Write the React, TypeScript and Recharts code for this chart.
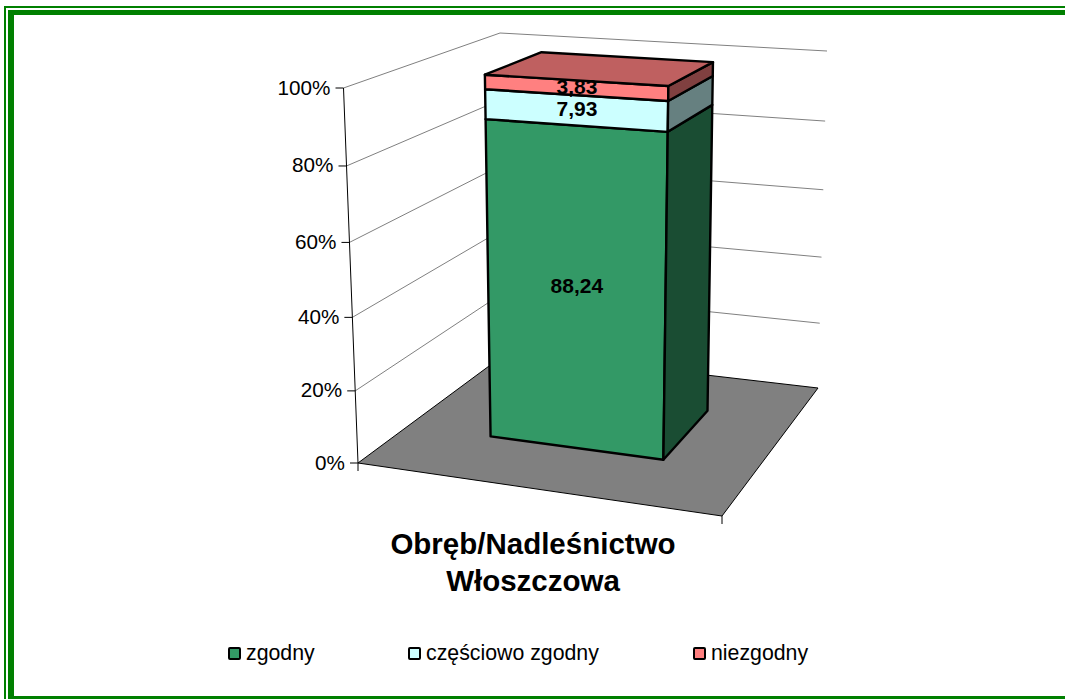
import { BarChart, Bar, XAxis, YAxis, CartesianGrid, Legend, LabelList } from "recharts";

const categories = ["Obręb/Nadleśnictwo Włoszczowa"];
const zgodny = [88.24];
const czesciowo = [7.93];
const niezgodny = [3.83];
const percentTicks = [0, 20, 40, 60, 80, 100];

const seriesNames = ["zgodny", "częściowo zgodny", "niezgodny"];
const legendLefts = [228, 408, 693];

const data = categories.map((name, i) => ({
  name,
  zgodny: zgodny[i],
  czesciowo: czesciowo[i],
  niezgodny: niezgodny[i],
}));

const WIDTH = 1065;
const HEIGHT = 699;
const FONT = "'Liberation Sans', Arial, sans-serif";

// plot box handed to recharts; the 3D view below is projected from it
const PLOT_LEFT = 358;
const PLOT_RIGHT = 722;
const PLOT_TOP = 88;
const PLOT_BOTTOM = 463;

type Pt = [number, number];

// unit square -> quad (front-left, front-right, back-right, back-left)
function makeHomography(p0: Pt, p1: Pt, p2: Pt, p3: Pt) {
  const dx1 = p1[0] - p2[0];
  const dy1 = p1[1] - p2[1];
  const dx2 = p3[0] - p2[0];
  const dy2 = p3[1] - p2[1];
  const sx = p0[0] - p1[0] + p2[0] - p3[0];
  const sy = p0[1] - p1[1] + p2[1] - p3[1];
  const den = dx1 * dy2 - dx2 * dy1;
  const g = (sx * dy2 - dx2 * sy) / den;
  const h = (dx1 * sy - sx * dy1) / den;
  const a = p1[0] - p0[0] + g * p1[0];
  const b = p3[0] - p0[0] + h * p3[0];
  const d = p1[1] - p0[1] + g * p1[1];
  const e = p3[1] - p0[1] + h * p3[1];
  return (u: number, w: number): Pt => {
    const k = g * u + h * w + 1;
    return [(a * u + b * w + p0[0]) / k, (d * u + e * w + p0[1]) / k];
  };
}

const floor = makeHomography([358, 463], [722, 516], [818, 388], [508, 352]);
const ceiling = makeHomography([343.5, 88], [731, 113], [827, 51], [500, 33]);

// v is 0..1 up the value axis, with a little foreshortening
function project(u: number, w: number, v: number): Pt {
  const t = v / (v + 1.05 * (1 - v));
  const a = floor(u, w);
  const b = ceiling(u, w);
  return [a[0] + (b[0] - a[0]) * t, a[1] + (b[1] - a[1]) * t];
}

const pixelToV = (y: number) => (PLOT_BOTTOM - y) / (PLOT_BOTTOM - PLOT_TOP);
const pixelToU = (x: number) => (x - PLOT_LEFT) / (PLOT_RIGHT - PLOT_LEFT);
const toPoints = (pts: Pt[]) => pts.map((p) => `${p[0]},${p[1]}`).join(" ");

const DEPTH_FRONT = 0.3;
const DEPTH_BACK = 0.7;

function Box3D(props: any) {
  const { x, y, width, height, front, side, top } = props;
  const u0 = pixelToU(x);
  const u1 = pixelToU(x + width);
  const v0 = pixelToV(y + height);
  const v1 = pixelToV(y);
  const common = { stroke: "#000", strokeWidth: 2.4, strokeLinejoin: "round" as const };
  return (
    <g>
      <polygon
        {...common}
        fill={front}
        points={toPoints([
          project(u0, DEPTH_FRONT, v0),
          project(u1, DEPTH_FRONT, v0),
          project(u1, DEPTH_FRONT, v1),
          project(u0, DEPTH_FRONT, v1),
        ])}
      />
      <polygon
        {...common}
        fill={side}
        points={toPoints([
          project(u1, DEPTH_FRONT, v0),
          project(u1, DEPTH_BACK, v0),
          project(u1, DEPTH_BACK, v1),
          project(u1, DEPTH_FRONT, v1),
        ])}
      />
      {top && (
        <polygon
          {...common}
          fill={top}
          points={toPoints([
            project(u0, DEPTH_FRONT, v1),
            project(u1, DEPTH_FRONT, v1),
            project(u1, DEPTH_BACK, v1),
            project(u0, DEPTH_BACK, v1),
          ])}
        />
      )}
    </g>
  );
}

function BoxLabel(props: any) {
  const { x, y, width, height, value } = props;
  const uc = pixelToU(x + width / 2);
  const a = project(uc, DEPTH_FRONT, pixelToV(y + height));
  const b = project(uc, DEPTH_FRONT, pixelToV(y));
  return (
    <text
      x={(a[0] + b[0]) / 2 + 1.5}
      y={(a[1] + b[1]) / 2 - 1.5}
      textAnchor="middle"
      dominantBaseline="central"
      fontFamily={FONT}
      fontWeight="bold"
      fontSize={21}
      fill="#000"
    >
      {String(value).replace(".", ",")}
    </text>
  );
}

function WallLine(props: any) {
  const v = pixelToV(props.y1);
  if (v <= 0.001) return <g />;
  return (
    <polyline
      fill="none"
      stroke="#808080"
      strokeWidth={1}
      points={toPoints([project(0, 0, v), project(0, 1, v), project(1, 1, v)])}
    />
  );
}

function ValueTick(props: any) {
  const v = pixelToV(props.y);
  const [px, py] = project(0, 0, v);
  return (
    <g>
      <line x1={px - 8} y1={py} x2={px} y2={py} stroke="#000" />
      <text
        x={px - 13}
        y={py - 1}
        textAnchor="end"
        dominantBaseline="central"
        fontFamily={FONT}
        fontSize={20.7}
        fill="#000"
      >
        {props.payload.value}%
      </text>
    </g>
  );
}

function CategoryTick(props: any) {
  const lines = String(props.payload.value).split(" ");
  return (
    <g>
      {lines.map((line, i) => (
        <text
          key={i}
          x={props.x - 7}
          y={543 + i * 37}
          textAnchor="middle"
          dominantBaseline="central"
          fontFamily={FONT}
          fontWeight="bold"
          fontSize={29.5}
          fill="#000"
        >
          {line}
        </text>
      ))}
    </g>
  );
}

// zero height on purpose: a taller legend would eat into the plot box
function LegendRow() {
  return (
    <div style={{ position: "relative", height: 0, fontFamily: FONT, fontSize: 21.3 }}>
      {seriesNames.map((name, i) => (
        <div key={name} style={{ position: "absolute", left: legendLefts[i], top: 0, whiteSpace: "nowrap" }}>
          <span
            style={{
              display: "inline-block",
              width: 9,
              height: 9,
              border: "2px solid #000",
              borderRadius: 2,
              marginRight: 5,
              background: seriesColors[i],
            }}
          />
          {name}
        </div>
      ))}
    </div>
  );
}

const seriesColors = ["#339966", "#CCFFFF", "#FF8080"];
const sideColors = ["#1A4D33", "#668080", "#804040"];
const topColor = "#BF6060";

export default function App() {
  return (
    <div style={{ position: "absolute", left: 0, top: 0, width: WIDTH, height: HEIGHT, background: "#fff", overflow: "hidden" }}>
      <div style={{ position: "absolute", left: 4, top: 6, right: 0, height: 2, background: "#008000" }} />
      <div style={{ position: "absolute", left: 4, top: 6, bottom: 0, width: 2, background: "#008000" }} />
      <div style={{ position: "absolute", left: 8, top: 10, right: 0, height: 5, background: "#008000" }} />
      <div style={{ position: "absolute", left: 8, top: 10, bottom: 0, width: 6, background: "#008000" }} />
      <div style={{ position: "absolute", left: 8, bottom: 0, right: 0, height: 3, background: "#008000" }} />
      <BarChart
        width={WIDTH}
        height={HEIGHT}
        data={data}
        barCategoryGap="25%"
        margin={{ top: PLOT_TOP, bottom: HEIGHT - PLOT_BOTTOM - 1, left: PLOT_LEFT - 1, right: WIDTH - PLOT_RIGHT }}
        style={{ position: "absolute", left: 0, top: 0 }}
      >
        <polygon
          fill="#808080"
          stroke="#000"
          strokeWidth={1}
          points={toPoints([floor(0, 0), floor(1, 0), floor(1, 1), floor(0, 1)])}
        />
        <line x1={project(0, 0, 0)[0]} y1={project(0, 0, 0)[1]} x2={project(0, 0, 1)[0]} y2={project(0, 0, 1)[1]} stroke="#000" />
        <line x1={floor(0, 0)[0]} y1={floor(0, 0)[1]} x2={floor(0, 0)[0]} y2={floor(0, 0)[1] + 8} stroke="#000" />
        <line x1={floor(1, 0)[0]} y1={floor(1, 0)[1]} x2={floor(1, 0)[0]} y2={floor(1, 0)[1] + 8} stroke="#000" />
        <CartesianGrid vertical={false} horizontal={(p: any) => <WallLine key={p.key} {...p} />} />
        <XAxis dataKey="name" axisLine={false} tickLine={false} height={1} interval={0} tick={<CategoryTick />} />
        <YAxis
          domain={[0, 100]}
          ticks={percentTicks}
          width={1}
          axisLine={false}
          tickLine={false}
          interval={0}
          tick={<ValueTick />}
        />
        <Legend verticalAlign="bottom" content={<LegendRow />} wrapperStyle={{ left: 0, top: 641, width: WIDTH, bottom: "auto" }} />
        <Bar
          dataKey="zgodny"
          name={seriesNames[0]}
          stackId="a"
          isAnimationActive={false}
          shape={<Box3D front={seriesColors[0]} side={sideColors[0]} />}
        >
          <LabelList dataKey="zgodny" content={<BoxLabel />} />
        </Bar>
        <Bar
          dataKey="czesciowo"
          name={seriesNames[1]}
          stackId="a"
          isAnimationActive={false}
          shape={<Box3D front={seriesColors[1]} side={sideColors[1]} />}
        >
          <LabelList dataKey="czesciowo" content={<BoxLabel />} />
        </Bar>
        <Bar
          dataKey="niezgodny"
          name={seriesNames[2]}
          stackId="a"
          isAnimationActive={false}
          shape={<Box3D front={seriesColors[2]} side={sideColors[2]} top={topColor} />}
        >
          <LabelList dataKey="niezgodny" content={<BoxLabel />} />
        </Bar>
      </BarChart>
    </div>
  );
}
